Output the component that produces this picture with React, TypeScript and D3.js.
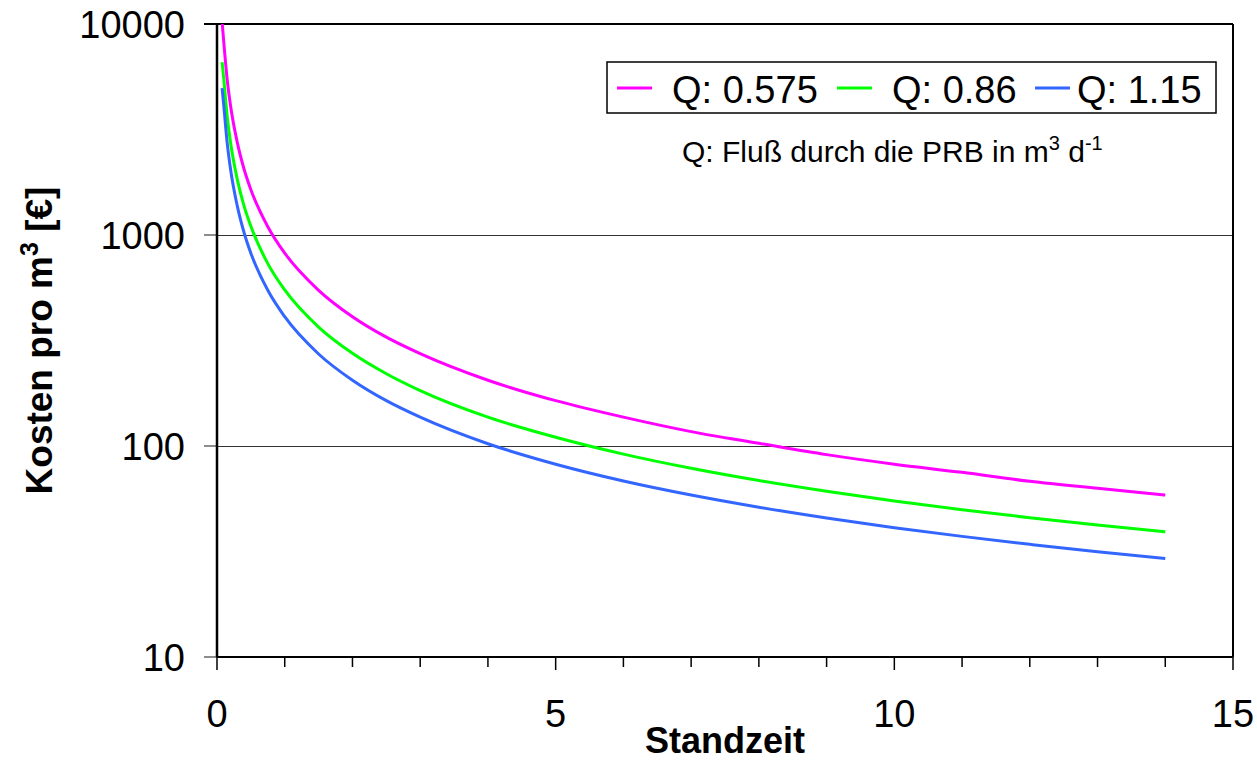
import React from "react";
import * as d3 from "d3";

// ---- data ----
const standzeit = [0.075, 0.1, 0.15, 0.2, 0.3, 0.4, 0.5, 0.75, 1, 1.5, 2, 2.5, 3, 4, 5, 6, 7, 8, 9, 10, 11, 12, 13, 14];
const kostenQ0575 = [10300, 8200, 5470, 4100, 2740, 2050, 1640, 1095, 820, 547, 410, 328, 274, 205, 164, 137, 117, 103, 91, 82, 75, 68, 63, 58.6];
const kostenQ086 = [6600, 5490, 3660, 2745, 1830, 1370, 1100, 732, 549, 366, 275, 220, 183, 137, 110, 91.5, 78.4, 68.6, 61, 54.9, 49.9, 45.7, 42.2, 39.2];
const kostenQ115 = [4970, 4100, 2740, 2050, 1370, 1025, 820, 547, 410, 273, 205, 164, 137, 102.5, 82, 68.3, 58.6, 51.3, 45.6, 41, 37.3, 34.2, 31.5, 29.3];

const seriesNames = ["Q: 0.575", "Q: 0.86", "Q: 1.15"];
const seriesColors = ["#FF00FF", "#00FF00", "#3366FF"];
const seriesValues = [kostenQ0575, kostenQ086, kostenQ115];

const xMajorTicks = [0, 5, 10, 15];
const xMinorTicks = d3.range(0, 16, 1);
const yTicks = [10, 100, 1000, 10000];
const yGridValues = [100, 1000];

const W = 1257;
const H = 760;
const left = 217;
const right = 1233;
const top = 24;
const bottom = 657;

const FONT = "'Liberation Sans', Arial, Helvetica, sans-serif";

export default function App() {
  const x = d3.scaleLinear().domain([0, 15]).range([left, right]);
  const y = d3.scaleLog().domain([10, 10000]).range([bottom, top]);

  const line = d3
    .line<[number, number]>()
    .x((d) => x(d[0]))
    .y((d) => y(d[1]))
    .curve(d3.curveMonotoneX);

  const legendX = [617, 837, 1035];
  const legendTextX = [672, 892, 1077];

  return (
    <svg
      width={W}
      height={H}
      style={{ position: "absolute", left: 0, top: 0, background: "#fff" }}
      fontFamily={FONT}
    >
      <defs>
        <clipPath id="plotClip">
          <rect x={left} y={top} width={right - left} height={bottom - top} />
        </clipPath>
      </defs>

      {/* gridlines */}
      {yGridValues.map((v) => (
        <line
          key={"g" + v}
          x1={left}
          x2={right}
          y1={Math.round(y(v)) + 0.5}
          y2={Math.round(y(v)) + 0.5}
          stroke="#333"
          strokeWidth={1}
        />
      ))}

      {/* y ticks */}
      {yTicks.map((v) => (
        <g key={"yt" + v}>
          <line x1={left - 13} x2={left} y1={y(v)} y2={y(v)} stroke="#666" strokeWidth={1.5} />
          <text x={185} y={y(v)} dy="0.36em" textAnchor="end" fontSize={38} fill="#000">
            {v}
          </text>
        </g>
      ))}

      {/* x ticks */}
      {xMinorTicks.map((v) => (
        <line
          key={"xm" + v}
          x1={x(v)}
          x2={x(v)}
          y1={bottom}
          y2={xMajorTicks.includes(v) ? bottom + 13 : bottom + 10}
          stroke="#000"
          strokeWidth={1.5}
        />
      ))}
      {xMajorTicks.map((v) => (
        <text key={"xl" + v} x={x(v)} y={727} textAnchor="middle" fontSize={38} fill="#000">
          {v}
        </text>
      ))}

      {/* frame */}
      <line x1={left - 13} x2={right} y1={top} y2={top} stroke="#000" strokeWidth={2} />
      <line x1={right} x2={right} y1={top} y2={bottom} stroke="#000" strokeWidth={2} />
      <line x1={left} x2={right} y1={bottom} y2={bottom} stroke="#000" strokeWidth={2} />
      <line x1={left} x2={left} y1={top} y2={bottom} stroke="#000" strokeWidth={2.5} />

      {/* series */}
      <g clipPath="url(#plotClip)">
        {seriesValues.map((vals, i) => (
          <path
            key={"s" + i}
            d={line(standzeit.map((t, j) => [t, vals[j]] as [number, number])) || ""}
            fill="none"
            stroke={seriesColors[i]}
            strokeWidth={3}
            strokeLinecap="butt"
          />
        ))}
      </g>

      {/* legend */}
      <rect x={607} y={62} width={609} height={51} fill="#fff" stroke="#000" strokeWidth={1.5} />
      {seriesNames.map((name, i) => (
        <g key={"lg" + i}>
          <line x1={legendX[i]} x2={legendX[i] + 35} y1={88} y2={88} stroke={seriesColors[i]} strokeWidth={3} />
          <text x={legendTextX[i]} y={103} fontSize={38} fill="#000">
            {name}
          </text>
        </g>
      ))}

      {/* subtitle */}
      <text x={682} y={162} fontSize={30} fill="#000">
        Q: Fluß durch die PRB in m
        <tspan fontSize={20} dy={-12}>3</tspan>
        <tspan dy={12}> d</tspan>
        <tspan fontSize={20} dy={-12}>-1</tspan>
      </text>

      {/* axis titles */}
      <text x={(left + right) / 2} y={753} textAnchor="middle" fontSize={36} fontWeight="bold" fill="#000">
        Standzeit
      </text>
      <text
        transform={`translate(52, ${(top + bottom) / 2}) rotate(-90)`}
        textAnchor="middle"
        fontSize={37}
        fontWeight="bold"
        fill="#000"
      >
        Kosten pro m<tspan fontSize={25} dy={-14}>3</tspan>
        <tspan dy={14}> [€]</tspan>
      </text>
    </svg>
  );
}
